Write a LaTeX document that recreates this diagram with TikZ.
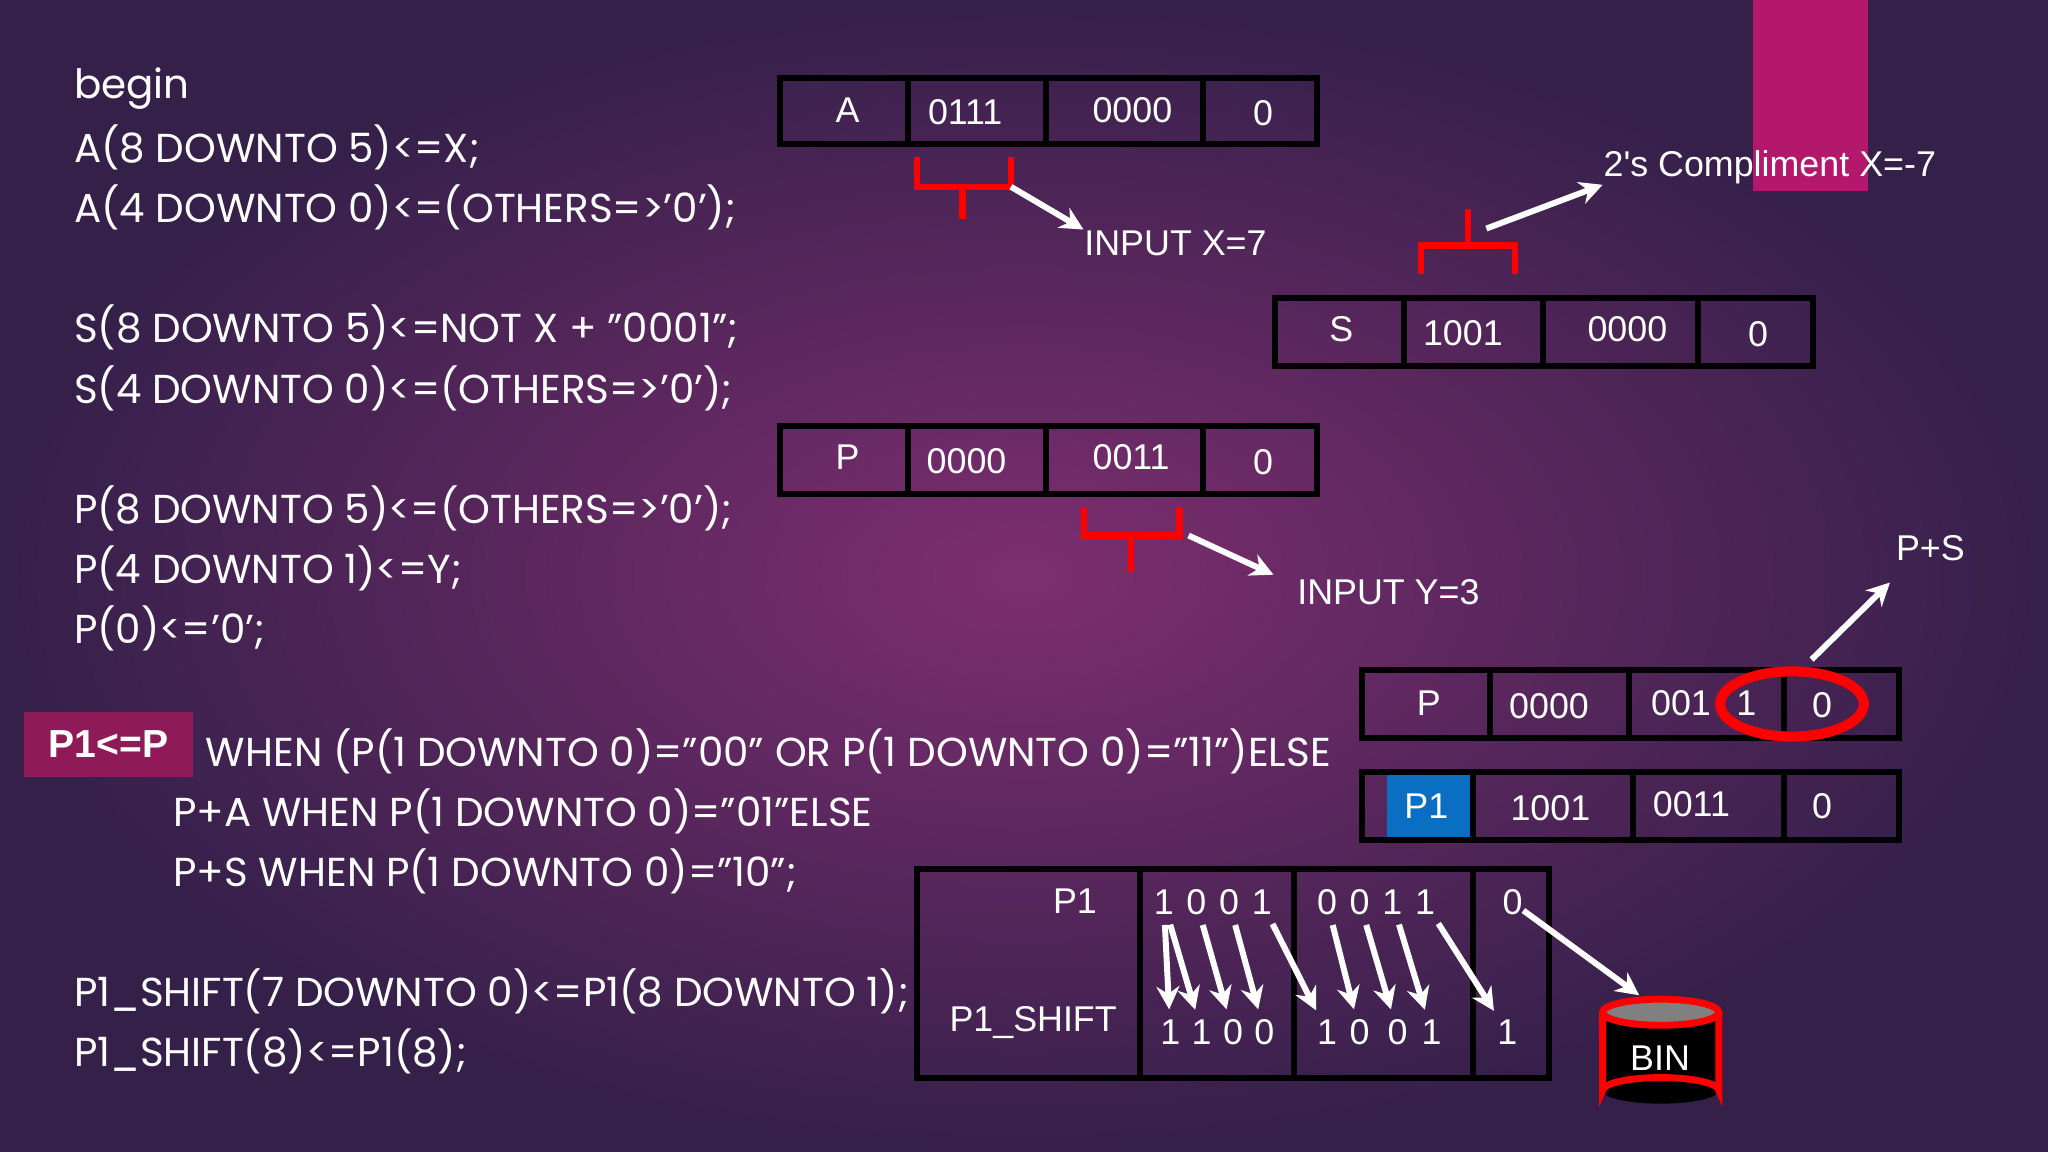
\documentclass[tikz,border=0pt]{standalone}
\usepackage{fontspec}
\setmainfont{Poppins}
\newfontfamily\regfont{Liberation Sans}
\usetikzlibrary{arrows.meta,shapes.geometric}
\definecolor{bgin}{HTML}{7E2E70}
\definecolor{bgout}{HTML}{35204A}
\definecolor{magbox}{HTML}{8E1B57}
\definecolor{magbar}{HTML}{B3186C}
\definecolor{bluebox}{HTML}{0A6FC2}
\tikzset{
 code/.style={anchor=west,text=white,font=\fontsize{8.8}{10}\selectfont,inner sep=0},
 reg/.style={draw=black,line width=1.3pt},
 rt/.style={text=white,font=\regfont\fontsize{7.8}{9}\selectfont,inner sep=0},
 brace/.style={draw=red,line width=1.4pt},
 warr/.style={draw=white,line width=1.3pt,-{Stealth[length=5pt,width=5pt]}},
 lbl/.style={text=white,font=\regfont\fontsize{7.8}{9}\selectfont,inner sep=0},
}
\begin{document}
\begin{tikzpicture}[x=0.01cm,y=-0.01cm]
\path[inner color=bgin,outer color=bgout] (0,0) rectangle (1568,882);
\useasboundingbox (0,0) rectangle (1568,882);
\fill[magbar] (1342,0) rectangle (1430,146);
% code
\node[code] (c1) at (56,68) {begin};
\node[code] (c2) at (56,113) {A(8 DOWNTO 5)<=X;};
\node[code] (c3) at (56,159) {A(4 DOWNTO 0)<=(OTHERS=>'0');};
\node[code] (c4) at (56,251) {S(8 DOWNTO 5)<=NOT X + "0001";};
\node[code] (c5) at (56,297) {S(4 DOWNTO 0)<=(OTHERS=>'0');};
\node[code] (c6) at (56,389) {P(8 DOWNTO 5)<=(OTHERS=>'0');};
\node[code] (c7) at (56,435) {P(4 DOWNTO 1)<=Y;};
\node[code] (c8) at (56,481) {P(0)<='0';};
\fill[magbox] (18,545) rectangle (148,595);
\node[rt,font=\regfont\bfseries\fontsize{8.5}{10}\selectfont] (p1p) at (83,570) {P1<=P};
\node[code] (c9) at (157,575) {WHEN (P(1 DOWNTO 0)="00" OR P(1 DOWNTO 0)="11")ELSE};
\node[code] (c10) at (132,621) {P+A WHEN P(1 DOWNTO 0)="01"ELSE};
\node[code] (c11) at (132,667) {P+S WHEN P(1 DOWNTO 0)="10";};
\node[code] (c12) at (56,759) {P1\_SHIFT(7 DOWNTO 0)<=P1(8 DOWNTO 1);};
\node[code] (c13) at (56,805) {P1\_SHIFT(8)<=P1(8);};
% A register
\draw[reg] (597,60) rectangle (1008,110) (695,60)--(695,110) (801,60)--(801,110) (921,60)--(921,110);
\node[rt] (a0) at (649,84) {A}; \node[rt] (a1) at (739,86) {0111};
\node[rt] (a2) at (867,84) {0000}; \node[rt] (a3) at (967,87) {0};
% S register
\draw[reg] (976,228) rectangle (1388,280) (1075,228)--(1075,280) (1181,228)--(1181,280) (1300,228)--(1300,280);
\node[rt] (s0) at (1027,252) {S}; \node[rt] (s1) at (1120,255) {1001};
\node[rt] (s2) at (1246,252) {0000}; \node[rt] (s3) at (1346,256) {0};
% P register
\draw[reg] (597,326) rectangle (1008,378) (695,326)--(695,378) (801,326)--(801,378) (921,326)--(921,378);
\node[rt] (p0) at (649,350) {P}; \node[rt] (pp1) at (740,353) {0000};
\node[rt] (pp2) at (866,350) {0011}; \node[rt] (pp3) at (967,354) {0};
% P register 2
\draw[reg] (1043,513) rectangle (1454,565) (1141,513)--(1141,565) (1247,513)--(1247,565) (1366,513)--(1366,565);
\node[rt] (q0) at (1094,538) {P}; \node[rt] (q1) at (1186,541) {0000};
\node[rt] (q2) at (1287,538) {001}; \node[rt] (q3) at (1337,538) {1}; \node[rt] (q4) at (1395,540) {0};
\draw[red,line width=2.2pt] (1372,539) ellipse (55 and 25);
% P1 register
\fill[bluebox] (1062,593) rectangle (1128,641);
\draw[reg] (1043,591) rectangle (1454,643) (1128,591)--(1128,643) (1250,591)--(1250,643) (1366,591)--(1366,643);
\node[rt] (r0) at (1092,617) {P1}; \node[rt] (r1) at (1187,619) {1001};
\node[rt] (r2) at (1295,616) {0011}; \node[rt] (r3) at (1395,617) {0};
% big box
\draw[reg] (702,665) rectangle (1186,825) (873,665)--(873,825) (991,665)--(991,825) (1128,665)--(1128,825);
\node[rt] (bp1) at (823,690) {P1}; \node[rt] (bps) at (791,783) {P1\_SHIFT};
\foreach \n/\x/\d in {0/891/1,1/916/0,2/941/0,3/966/1,4/1016/0,5/1041/0,6/1066/1,7/1091/1,8/1158/0}
  \node[rt] (t\n) at (\x,691) {\d};
\foreach \n/\x/\d in {0/896/1,1/920/1,2/944/0,3/968/0,4/1016/1,5/1041/0,6/1070/0,7/1096/1,8/1154/1}
  \node[rt] (b\n) at (\x,790) {\d};
\draw[warr,shorten <=2pt,shorten >=2pt] (t0) -- (b0);
\foreach \i/\j in {0/1,1/2,2/3,3/4,4/5,5/6,6/7,7/8}
  \draw[warr,shorten <=2pt,shorten >=2pt] (t\i) -- (b\j);
% BIN
\fill[black] (1227,775) rectangle (1316,835);
\fill[black] (1271.5,835) ellipse (44.5 and 10);
\draw[red,line width=1.5pt] (1227,775)--(1227,835) arc[start angle=180,end angle=360,x radius=44.5,y radius=10] -- (1316,775);
\filldraw[fill=gray,draw=red,line width=1.5pt] (1271.5,775) ellipse (44.5 and 10);
\node[lbl] (bin) at (1271,810) {BIN};
\coordinate (binTop) at (1255,762);
\draw[warr] (t8) -- (binTop);
% braces and labels
\draw[brace] (702,120)--(702,143)--(774,143)--(774,120) (737,143)--(737,168);
\node[lbl] (inx) at (900,186) {INPUT X=7};
\draw[warr] (774,143) -- (inx.north west);
\draw[brace] (1088,210)--(1088,188)--(1160,188)--(1160,210) (1124,188)--(1124,160);
\node[lbl] (cmp) at (1355,128) {2's Compliment X=-7};
\draw[warr] (1138,175) -- (cmp.south west);
\draw[brace] (830,388)--(830,410)--(903,410)--(903,388) (866,410)--(866,437);
\node[lbl] (iny) at (1063,453) {INPUT Y=3};
\draw[warr] (910,410) -- (975,440);
\node[lbl] (ps) at (1478,420) {P+S};
\draw[warr] (1387,505) -- (1447,446);
\end{tikzpicture}
\end{document}
